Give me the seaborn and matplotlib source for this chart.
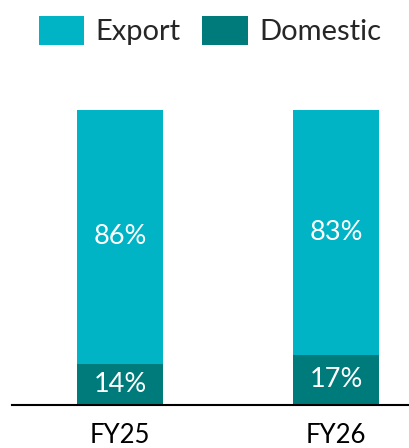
import matplotlib
matplotlib.use("Agg")
import matplotlib.pyplot as plt
import seaborn as sns
import pandas as pd

categories = ["FY25", "FY26"]
export_pct = [86, 83]
domestic_pct = [14, 17]
series_names = ["Export", "Domestic"]
colors = {"Export": "#00B4C5", "Domestic": "#007B7C"}

sns.set_theme(style="white")
plt.rcParams["font.family"] = ["Lato", "DejaVu Sans"]

df = pd.DataFrame({"cat": categories, "Export": export_pct, "Domestic": domestic_pct})
df["total"] = df["Export"] + df["Domestic"]

fig = plt.figure(figsize=(4.09, 4.48), dpi=100)
ax = fig.add_axes([12 / 409, 43 / 448, 397 / 409, 295 / 448])

sns.barplot(data=df, x="cat", y="total", color=colors["Export"], width=0.4,
            saturation=1, ax=ax, label="Export", linewidth=0, edgecolor="none")
sns.barplot(data=df, x="cat", y="Domestic", color=colors["Domestic"], width=0.4,
            saturation=1, ax=ax, label="Domestic", linewidth=0, edgecolor="none")

# export labels at the centre of the export segment
for patch, d, e in zip(ax.containers[0], domestic_pct, export_pct):
    xc = patch.get_x() + patch.get_width() / 2
    ax.text(xc, d + e / 2, f"{e}%", ha="center", va="center",
            color="white", fontsize=19.5)
ax.bar_label(ax.containers[1], labels=[f"{v}%" for v in domestic_pct],
             label_type="center", color="white", fontsize=19.5)

ax.set_ylim(0, 100)
ax.set_xlim(-0.5, 1.338)
ax.set_xlabel("")
ax.set_ylabel("")
ax.set_yticks([])
ax.tick_params(axis="x", length=0, pad=13, labelsize=18.5, colors="black")
for s in ["top", "right", "left"]:
    ax.spines[s].set_visible(False)
ax.spines["bottom"].set_color("black")
ax.spines["bottom"].set_linewidth(1.5)

if ax.legend_:
    ax.legend_.remove()
handles, labels = ax.get_legend_handles_labels()
fig.legend(handles, labels, loc="upper center", bbox_to_anchor=(210 / 409, 1.0),
           ncol=2, frameon=False, fontsize=21, handlelength=1.55, handleheight=1.15,
           handletextpad=0.4, columnspacing=0.75, borderaxespad=0.15)

fig.savefig("out.png", dpi=100)
